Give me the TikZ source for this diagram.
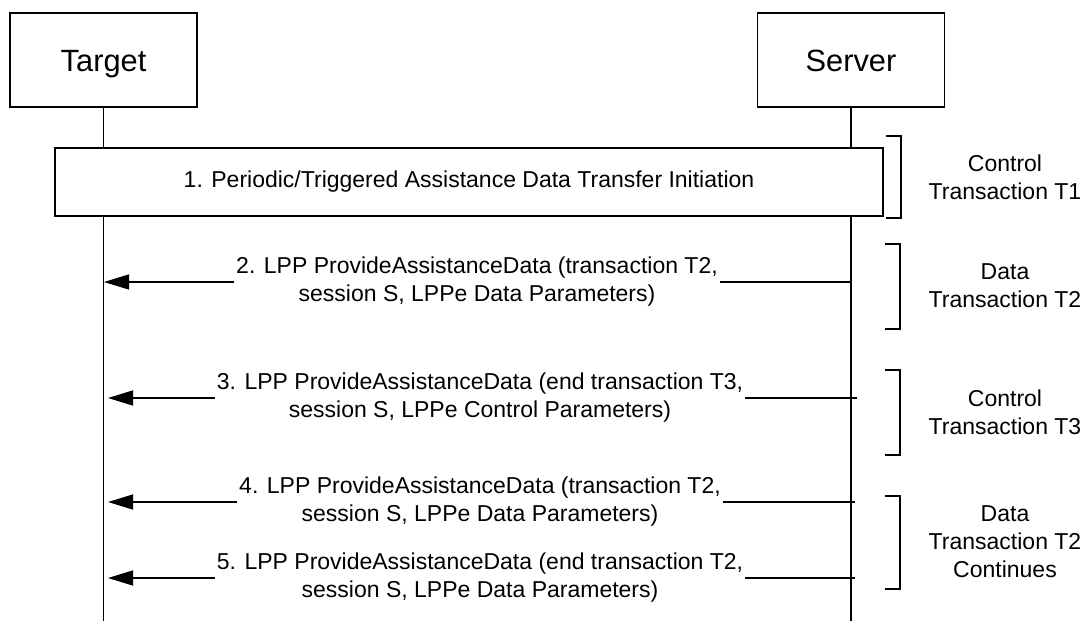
\documentclass[tikz,border=0pt]{standalone}
\usepackage{fontspec}
\setmainfont{Liberation Sans}
\setsansfont{Liberation Sans}
\usetikzlibrary{arrows.meta, positioning}
\newcommand{\msgFont}{\fontsize{23}{28}\selectfont}
\newcommand{\actorFont}{\fontsize{30.8}{36}\selectfont}
\tikzset{
    font=\sffamily,
    actorBox/.style={
        draw, line width=1.3pt,
        minimum width=187pt, minimum height=94pt,
        text height=22pt, text depth=0pt,
        font=\actorFont
    },
    lifeLine/.style={line width=1.3pt},
    phaseBox/.style={
        draw, fill=white, line width=1.3pt,
        minimum width=828pt, minimum height=68pt,
        font=\msgFont
    },
    msgArrow/.style={
        line width=1.3pt,
        -{Triangle[length=25pt, width=15pt]}
    },
    msgLabel/.style={
        fill=white, align=center,
        inner xsep=2pt, inner ysep=0pt,
        font=\msgFont
    },
    bracketLine/.style={line width=1.3pt},
    bracketLabel/.style={
        align=center,
        font=\msgFont
    }
}

\begin{document}
\begin{tikzpicture}[x=1pt, y=-1pt]
			\useasboundingbox (0,0) rectangle (1087,621);

			\node [actorBox] (target) at (103.5,60) {Target};
			\node [actorBox] (server) at (851,60) {Server};
			\coordinate (targetEnd) at (103.5,621);
			\coordinate (serverEnd) at (851,621);
			\draw [lifeLine] (target.south) -- (targetEnd);
			\draw [lifeLine] (server.south) -- (serverEnd);

			\node [phaseBox] (initBox) at (469,182) {1. Periodic/Triggered Assistance Data Transfer Initiation};

			\coordinate (srvTwo) at (851,282);
			\coordinate (tgtTwo) at (104,282);
			\draw [msgArrow] (srvTwo) -- (tgtTwo);
			\node [msgLabel] (msgTwo) at (477,282) {2. LPP ProvideAssistanceData (transaction T2,\\session S, LPPe Data Parameters)};

			\coordinate (srvThree) at (857,398);
			\coordinate (tgtThree) at (108,398);
			\draw [msgArrow] (srvThree) -- (tgtThree);
			\node [msgLabel] (msgThree) at (480,398) {3. LPP ProvideAssistanceData (end transaction T3,\\session S, LPPe Control Parameters)};

			\coordinate (srvFour) at (855,502);
			\coordinate (tgtFour) at (108,502);
			\draw [msgArrow] (srvFour) -- (tgtFour);
			\node [msgLabel] (msgFour) at (480,502) {4. LPP ProvideAssistanceData (transaction T2,\\session S, LPPe Data Parameters)};

			\coordinate (srvFive) at (855,578);
			\coordinate (tgtFive) at (108,578);
			\draw [msgArrow] (srvFive) -- (tgtFive);
			\node [msgLabel] (msgFive) at (480,578) {5. LPP ProvideAssistanceData (end transaction T2,\\session S, LPPe Data Parameters)};

			\draw [bracketLine] (886,136) -- (901,136) -- (901,218) -- (886,218);
			\node [bracketLabel] (ctrlOne) at (1005,177) {Control\\Transaction T1};

			\draw [bracketLine] (885,244) -- (900,244) -- (900,329) -- (885,329);
			\node [bracketLabel] (dataTwo) at (1005,286) {Data\\Transaction T2};

			\draw [bracketLine] (885,370) -- (900,370) -- (900,455) -- (885,455);
			\node [bracketLabel] (ctrlThree) at (1005,412) {Control\\Transaction T3};

			\draw [bracketLine] (885,496) -- (900,496) -- (900,589) -- (885,589);
			\node [bracketLabel] (dataCont) at (1005,542) {Data\\Transaction T2\\Continues};
		\end{tikzpicture}
\end{document}
